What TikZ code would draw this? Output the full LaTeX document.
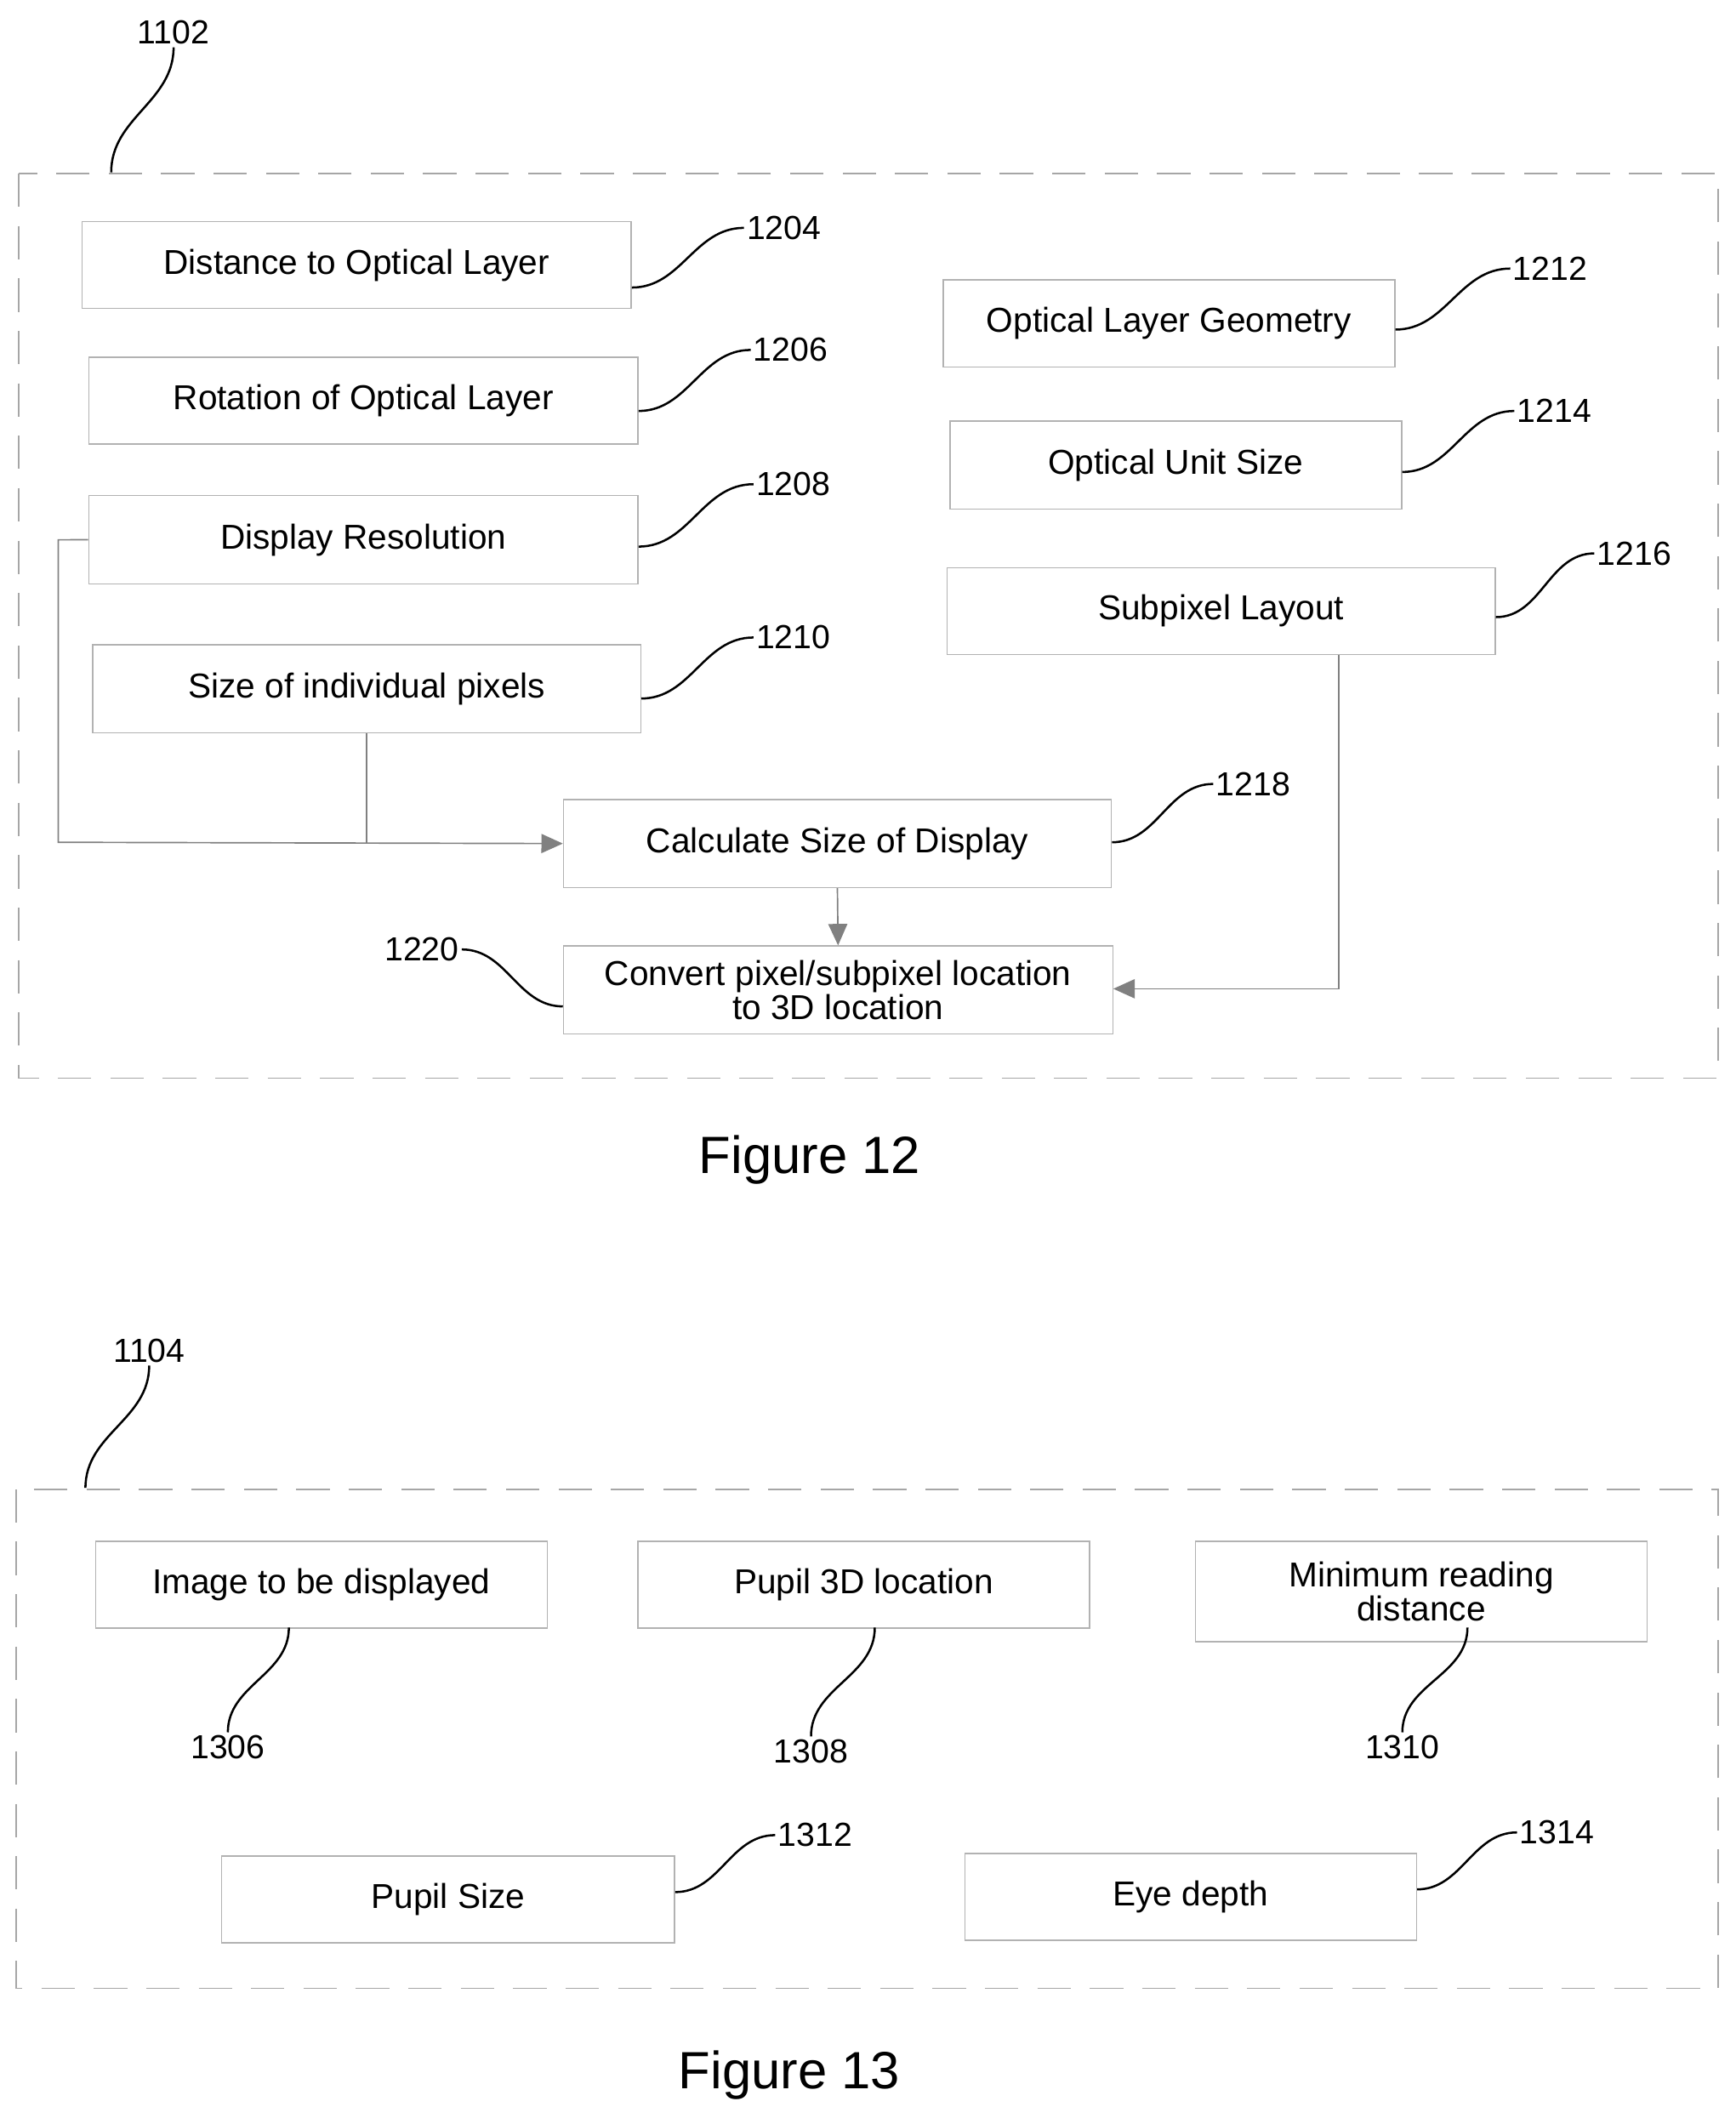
\documentclass[tikz,border=0pt]{standalone}
\usepackage{fontspec}
\setmainfont{Liberation Sans}
\usetikzlibrary{arrows.meta}

\tikzset{
  box/.style={draw=gray!60, line width=0.5pt, inner sep=0pt, font=\fontsize{14.5}{16}\selectfont, align=center},
  lbl/.style={font=\fontsize{14}{16}\selectfont, inner sep=1pt},
  frame/.style={draw=gray!70, dash pattern=on 14pt off 8pt, line width=0.6pt},
  flow/.style={draw=gray, line width=0.6pt, -{Triangle[length=9pt,width=8pt]}},
  leader/.style={draw=black, line width=0.9pt},
}
% box from corner (#2) with size #3 x #4
\newcommand{\boxat}[5]{\node[box, minimum width=#3*0.02cm, minimum height=#4*0.02cm, anchor=north west] (#1) at (#2) {#5};}

\begin{document}
\begin{tikzpicture}[x=0.02cm, y=-0.02cm]
\useasboundingbox (0,0) rectangle (1280,1566);

% Figure 12
\draw[frame] (14,128) rectangle (1267,795);
\node[lbl] (l1102) at (128,24) {1102};
\draw[leader] (l1102.south) to[out=-90,in=90] (82,127);

\boxat{n1204}{60,163}{405}{64}{Distance to Optical Layer}
\boxat{n1206}{65,263}{405}{64}{Rotation of Optical Layer}
\boxat{n1208}{65,365}{405}{65}{Display Resolution}
\boxat{n1210}{68,475}{404}{65}{Size of individual pixels}
\boxat{n1212}{695,206}{333}{64}{Optical Layer Geometry}
\boxat{n1214}{700,310}{333}{65}{Optical Unit Size}
\boxat{n1216}{698,418}{404}{64}{Subpixel Layout}
\boxat{n1218}{415,589}{404}{65}{Calculate Size of Display}
\boxat{n1220}{415,697}{405}{65}{Convert pixel/subpixel location\\[-2pt]to 3D location}

\node[lbl] (l1204) at (578,168) {1204};
\node[lbl] (l1206) at (583,258) {1206};
\node[lbl] (l1208) at (585,357) {1208};
\node[lbl] (l1210) at (585,470) {1210};
\node[lbl] (l1212) at (1143,198) {1212};
\node[lbl] (l1214) at (1146,303) {1214};
\node[lbl] (l1216) at (1205,408) {1216};
\node[lbl] (l1218) at (924,578) {1218};
\node[lbl] (l1220) at (311,700) {1220};

\draw[leader] (n1204.east |- 0,212) to[out=0,in=180] (l1204.west);
\draw[leader] (n1206.east |- 0,303) to[out=0,in=180] (l1206.west);
\draw[leader] (n1208.east |- 0,403) to[out=0,in=180] (l1208.west);
\draw[leader] (n1210.east |- 0,515) to[out=0,in=180] (l1210.west);
\draw[leader] (n1212.east |- 0,243) to[out=0,in=180] (l1212.west);
\draw[leader] (n1214.east |- 0,348) to[out=0,in=180] (l1214.west);
\draw[leader] (n1216.east |- 0,455) to[out=0,in=180] (l1216.west);
\draw[leader] (n1218.east |- 0,621) to[out=0,in=180] (l1218.west);
\draw[leader] (n1220.west |- 0,742) to[out=180,in=0] (l1220.east);

\draw[flow] (n1208.west) -- (43,398) -- (43,621) -- (n1218.west);
\draw[draw=gray, line width=0.6pt] (n1210.south) -- (n1210.south |- n1218.west);
\draw[flow] (n1218.south) -- (n1220.north);
\draw[flow] (n1216.south -| 987,0) -- (987,729) -- (n1220.east |- 0,729);

\node[font=\fontsize{22}{24}\selectfont] (fig12) at (597,855) {Figure 12};

% Figure 13
\draw[frame] (12,1098) rectangle (1267,1466);
\node[lbl] (l1104) at (110,996) {1104};
\draw[leader] (l1104.south) to[out=-90,in=90] (63,1097);

\boxat{n1306}{70,1136}{333}{64}{Image to be displayed}
\boxat{n1308}{470,1136}{333}{64}{Pupil 3D location}
\boxat{n1310}{881,1136}{333}{74}{Minimum reading\\[-2pt]distance}
\boxat{n1312}{163,1368}{334}{64}{Pupil Size}
\boxat{n1314}{711,1366}{333}{64}{Eye depth}

\node[lbl] (l1306) at (168,1288) {1306};
\node[lbl] (l1308) at (598,1291) {1308};
\node[lbl] (l1310) at (1034,1288) {1310};
\node[lbl] (l1312) at (601,1353) {1312};
\node[lbl] (l1314) at (1148,1351) {1314};

\draw[leader] (213,1200) to[out=-90,in=90] (l1306.north);
\draw[leader] (645,1200) to[out=-90,in=90] (l1308.north);
\draw[leader] (1082,1200) to[out=-90,in=90] (l1310.north);
\draw[leader] (n1312.east |- 0,1395) to[out=0,in=180] (l1312.west);
\draw[leader] (n1314.east |- 0,1393) to[out=0,in=180] (l1314.west);

\node[font=\fontsize{22}{24}\selectfont] (fig13) at (582,1530) {Figure 13};
\end{tikzpicture}
\end{document}
